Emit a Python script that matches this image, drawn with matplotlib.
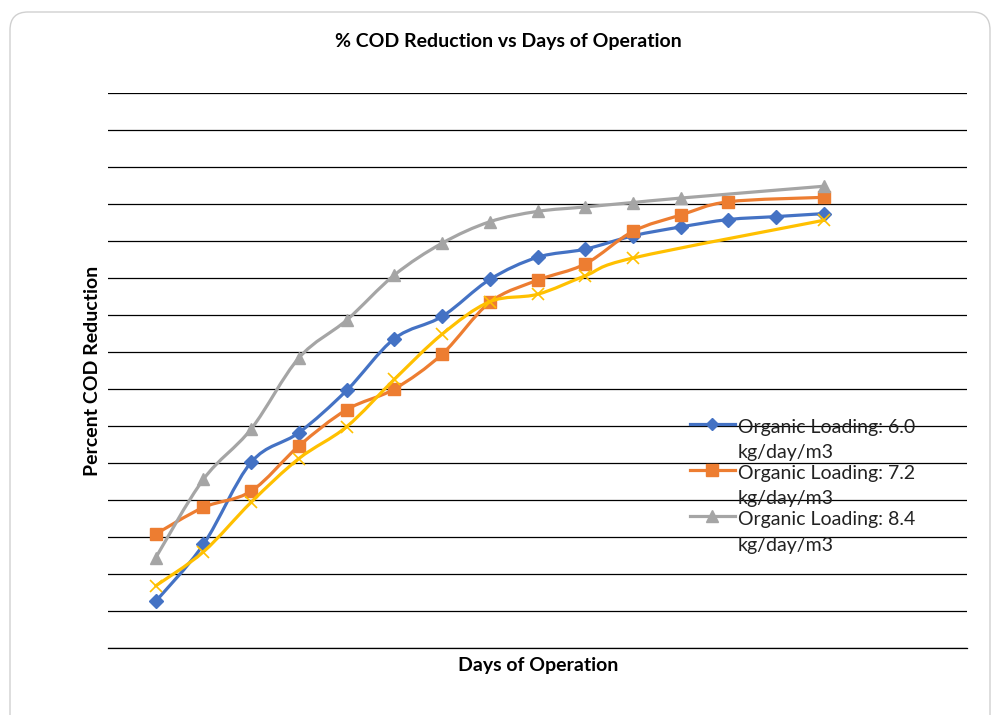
import matplotlib
matplotlib.use("Agg")
import matplotlib.pyplot as plt
import numpy as np
from matplotlib.path import Path
from matplotlib.patches import PathPatch, FancyBboxPatch
from matplotlib.lines import Line2D
from matplotlib.transforms import IdentityTransform
from matplotlib.legend_handler import HandlerLine2D

plt.rcParams['font.family'] = ['Lato', 'DejaVu Sans']

days = [1, 2, 3, 4, 5, 6, 7, 8, 9, 10, 11, 12, 13, 14, 15]
load_60 = [6.3, 14.0, 25.1, 29.1, 34.8, 41.8, 44.8, 49.8, 52.8, 53.9, 55.7, 56.9, 57.9, 58.3, 58.7]
load_72 = [15.4, 19.0, 21.2, 27.3, 32.2, 35.0, 39.7, 46.7, 49.7, 51.9, 56.3, 58.5, 60.3, None, 60.9]
load_84 = [12.2, 22.8, 29.6, 39.2, 44.3, 50.4, 54.7, 57.6, 59.0, 59.6, 60.2, 60.8, None, None, 62.4]
load_ny = [8.4, 13.0, 19.7, 25.6, 29.9, 36.3, 42.4, 46.8, 47.8, 50.3, 52.7, None, None, None, 57.8]

labels = ["Organic Loading: 6.0\nkg/day/m3", "Organic Loading: 7.2\nkg/day/m3",
          "Organic Loading: 8.4\nkg/day/m3"]

fig = plt.figure(figsize=(9.94, 7.15), dpi=100)
fig.patch.set_facecolor('white')
border = FancyBboxPatch((10, -20), 980, 723, boxstyle="round,pad=0,rounding_size=18",
                        transform=IdentityTransform(), facecolor='none',
                        edgecolor='#D0D0D0', linewidth=1.0, zorder=-1)
fig.patches.append(border)

ax = fig.add_axes([108/994, 1-648/715, (967-108)/994, (648-93)/715])
ax.set_facecolor('none')
ax.set_xlim(0, 18)
ax.set_ylim(0, 75)
ax.set_yticks(np.arange(0, 76, 5))
ax.set_xticks([])
ax.tick_params(axis='y', length=0, labelleft=False)
ax.grid(axis='y', color='black', linewidth=0.9)
for s in ['top', 'right', 'left']:
    ax.spines[s].set_visible(False)
ax.spines['bottom'].set_color('black')
ax.spines['bottom'].set_linewidth(0.9)


def smooth_path(xs, ys, t=1/6):
    pts = np.column_stack([xs, ys])
    n = len(pts)
    verts = [pts[0]]
    codes = [Path.MOVETO]
    for i in range(n - 1):
        p0 = pts[i - 1] if i > 0 else pts[i]
        p1 = pts[i]
        p2 = pts[i + 1]
        p3 = pts[i + 2] if i + 2 < n else pts[i + 1]
        c1 = p1 + (p2 - p0) * t
        c2 = p2 - (p3 - p1) * t
        verts += [c1, c2, p2]
        codes += [Path.CURVE4] * 3
    return Path(verts, codes)


class FirstLineHandler(HandlerLine2D):
    def __init__(self, shift, **kw):
        super().__init__(**kw)
        self.shift = shift

    def create_artists(self, legend, orig_handle, xdescent, ydescent, width, height,
                       fontsize, trans):
        arts = super().create_artists(legend, orig_handle, xdescent, ydescent, width,
                                      height, fontsize, trans)
        for a in arts:
            a.set_ydata(np.asarray(a.get_ydata()) + self.shift)
        return arts


series = [
    (load_60, '#4472C4', 'D', 7),
    (load_72, '#ED7D31', 's', 9),
    (load_84, '#A5A5A5', '^', 9),
    (load_ny, '#FFC000', 'x', 9),
]
handles = []
for k, (vals, col, mk, ms) in enumerate(series):
    xs = [d for d, v in zip(days, vals) if v is not None]
    ys = [v for v in vals if v is not None]
    patch = PathPatch(smooth_path(xs, ys), facecolor='none', edgecolor=col,
                      linewidth=2.3, zorder=3 + k, capstyle='round', joinstyle='round')
    ax.add_patch(patch)
    ax.plot(xs, ys, linestyle='none', marker=mk, markersize=ms, color=col,
            markeredgewidth=1.2 if mk == 'x' else 1.0, zorder=3 + k)
    if k < 3:
        handles.append(Line2D([], [], color=col, marker=mk, markersize=ms - 1, linewidth=2.3))

leg_fs = 14
shift = 16.5 / 1.389
leg = ax.legend(handles, labels, loc='upper left', bbox_to_anchor=(582/859, (648-419)/555),
                frameon=False, fontsize=leg_fs, handlelength=2.3, handletextpad=0.15,
                labelspacing=0.2, borderpad=0, borderaxespad=0,
                handler_map={Line2D: FirstLineHandler(shift)})
leg.set_zorder(10)
for t in leg.get_texts():
    t.set_color('#222222')
    t.set_linespacing(1.59)

fig.text(508/994, 1-42/715, "% COD Reduction vs Days of Operation", ha='center', va='center',
         fontsize=14, fontweight='bold')
fig.text(538/994, 1-665/715, "Days of Operation", ha='center', va='center',
         fontsize=14, fontweight='bold')
fig.text(92/994, 1-371/715, "Percent COD Reduction", ha='center', va='center',
         fontsize=14, fontweight='bold', rotation=90)

fig.savefig('out.png', dpi=100)
